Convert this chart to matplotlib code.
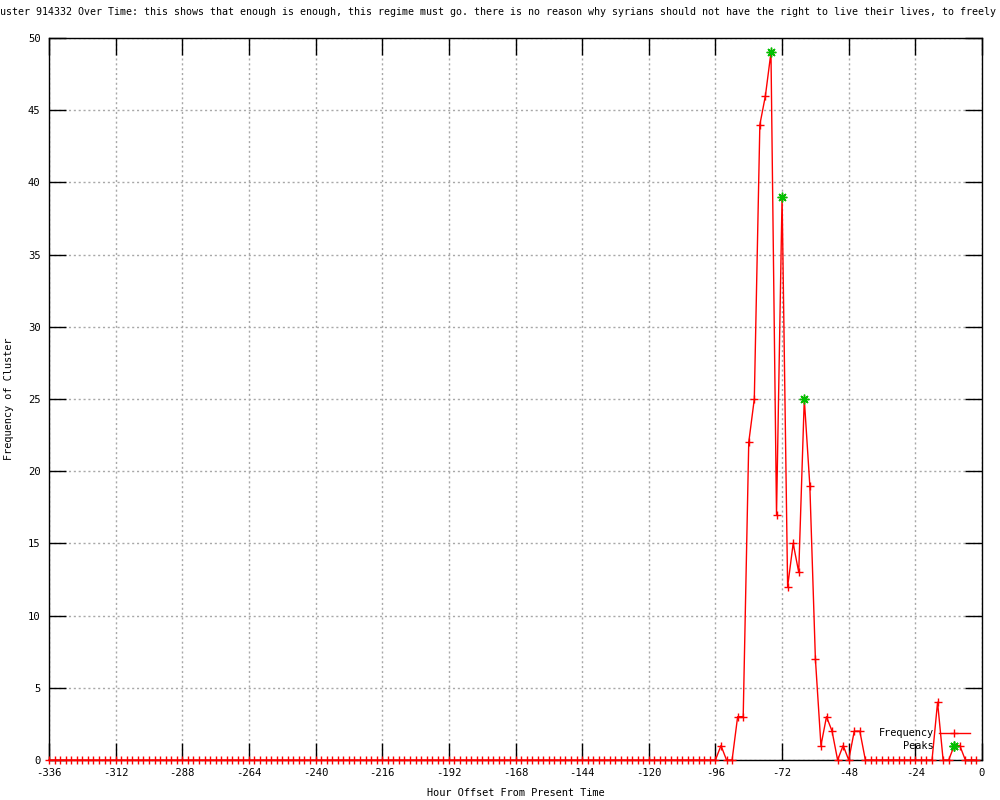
import matplotlib
matplotlib.use('Agg')
import matplotlib.pyplot as plt

matplotlib.rcParams['font.family'] = 'DejaVu Sans Mono'
matplotlib.rcParams['font.size'] = 7.4
matplotlib.rcParams['axes.unicode_minus'] = False

# hours before present, one sample every 2 hours
hours = list(range(-336, 0, 2))
freq = ([0] * 121
        + [1, 0, 0, 3, 3, 22, 25, 44, 46, 49, 17, 39, 12, 15, 13, 25, 19, 7,
           1, 3, 2, 0, 1, 0, 2, 2, 0]
        + [0] * 12
        + [4, 0, 0, 1, 1, 0, 0, 0])
assert len(freq) == len(hours)

peak_hours = [-76, -72, -64, -10]
peak_vals = [49, 39, 25, 1]

x_ticks = list(range(-336, 1, 24))
y_ticks = list(range(0, 51, 5))

title = ("Cluster 914332 Over Time: this shows that enough is enough, this regime must go. "
         "there is no reason why syrians should not have the right to live their lives, "
         "to freely express themselves")

fig = plt.figure(figsize=(10, 8), dpi=100)
ax = fig.add_axes([0.049, 0.05, 0.933, 0.9025])

ax.plot(hours, freq, color='red', linewidth=1, marker='+', markersize=6,
        markeredgewidth=1, label='Frequency', clip_on=False, zorder=3)
ax.plot(peak_hours, peak_vals, linestyle='none', color='#00c000',
        marker=(8, 2, 0), markersize=7, markeredgewidth=1, label='Peaks',
        clip_on=False, zorder=4)

ax.set_xlim(-336, 0)
ax.set_ylim(0, 50)
ax.set_xticks(x_ticks)
ax.set_yticks(y_ticks)
ax.tick_params(direction='in', length=12, width=1, top=True, right=True,
               labelsize=7.6)
ax.tick_params(axis='x', pad=6)
ax.tick_params(axis='y', pad=6)

ax.grid(color='#a8a8a8', linestyle=(0, (1.5, 2)), linewidth=1)
ax.set_axisbelow(True)
for s in ax.spines.values():
    s.set_linewidth(1)

ax.set_xlabel('Hour Offset From Present Time', labelpad=7)
ax.set_ylabel('Frequency of Cluster', labelpad=10)

fig.text(-0.012, 0.985, title, ha='left', va='center', fontsize=7.2)

ax.legend(loc='lower right', bbox_to_anchor=(0.987, 0.012), frameon=False,
          markerfirst=False, numpoints=1, handlelength=3.0, handletextpad=0.5,
          labelspacing=0.3, borderaxespad=0, borderpad=0)

fig.savefig('out.png', dpi=100)
